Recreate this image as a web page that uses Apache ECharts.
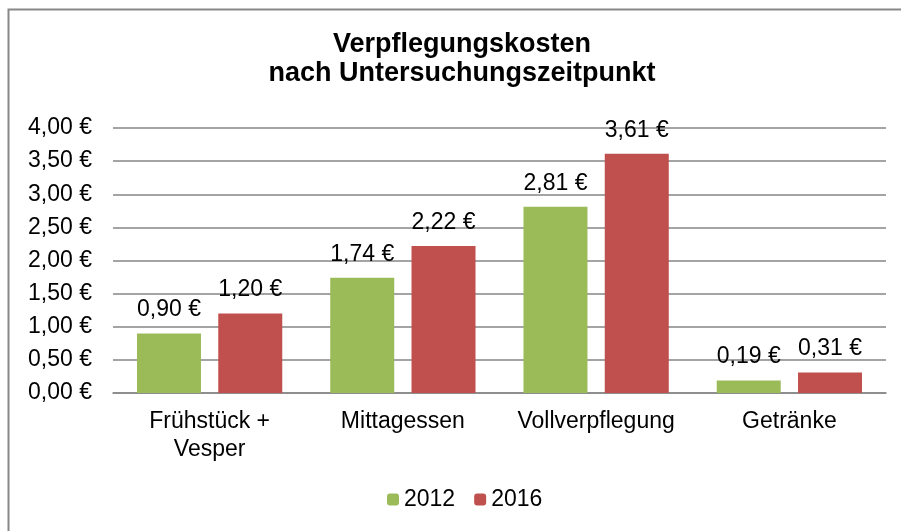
<!DOCTYPE html>
<html>
<head>
<meta charset="utf-8">
<script src="https://cdn.jsdelivr.net/npm/echarts@6/dist/echarts.min.js"></script>
<style>
  html, body { margin: 0; padding: 0; background: #fff; }
  #chart { width: 901px; height: 531px; }
</style>
</head>
<body>
<div id="chart"></div>
<script>
// Daten
var categories = ['Frühstück +\nVesper', 'Mittagessen', 'Vollverpflegung', 'Getränke'];
var values2012 = [0.90, 1.74, 2.81, 0.19];
var values2016 = [1.20, 2.22, 3.61, 0.31];

function euro(v) {
    return v.toFixed(2).replace('.', ',') + ' €';
}

var myChart = echarts.init(document.getElementById('chart'));
var font = 'Liberation Sans, Arial, sans-serif';
var labelStyle = {
    show: true, position: 'top', distance: 12,
    fontFamily: font, fontSize: 23, color: '#000',
    formatter: function (p) { return euro(p.value); }
};

var option = {
    animation: false,
    textStyle: {fontFamily: font},
    graphic: [{
        type: 'rect',
        shape: {x: 8.5, y: 9.5, width: 1000, height: 600},
        style: {fill: 'none', stroke: '#888', lineWidth: 2}
    }],
    title: {
        text: 'Verpflegungskosten\nnach Untersuchungszeitpunkt',
        left: 462,
        textAlign: 'center',
        top: 30,
        padding: 0,
        textStyle: {fontFamily: font, fontSize: 27, fontWeight: 'bold', color: '#000', lineHeight: 29}
    },
    legend: {
        top: 488,
        left: 387,
        padding: 0,
        itemWidth: 12,
        itemHeight: 12,
        itemGap: 19,
        textStyle: {fontFamily: font, fontSize: 23, color: '#000'},
        data: ['2012', '2016']
    },
    grid: {left: 113, right: 15, top: 128, bottom: 138, containLabel: false},
    xAxis: {
        type: 'category',
        data: categories,
        axisTick: {show: false},
        axisLine: {lineStyle: {color: '#868686', width: 1.5}},
        axisLabel: {interval: 0, fontFamily: font, fontSize: 23, color: '#000', margin: 15, lineHeight: 28}
    },
    yAxis: {
        type: 'value',
        min: 0,
        max: 4,
        interval: 0.5,
        axisLine: {show: false},
        axisTick: {show: false},
        splitLine: {lineStyle: {color: '#868686', width: 1.5}},
        axisLabel: {fontFamily: font, fontSize: 23, color: '#000', margin: 21, formatter: euro}
    },
    series: [
        {
            name: '2012',
            type: 'bar',
            data: values2012,
            barWidth: 64,
            barGap: '27%',
            itemStyle: {color: '#9BBB59'},
            label: labelStyle
        },
        {
            name: '2016',
            type: 'bar',
            data: values2016,
            barWidth: 64,
            itemStyle: {color: '#C0504D'},
            label: labelStyle
        }
    ]
};
myChart.setOption(option);
</script>
</body>
</html>
